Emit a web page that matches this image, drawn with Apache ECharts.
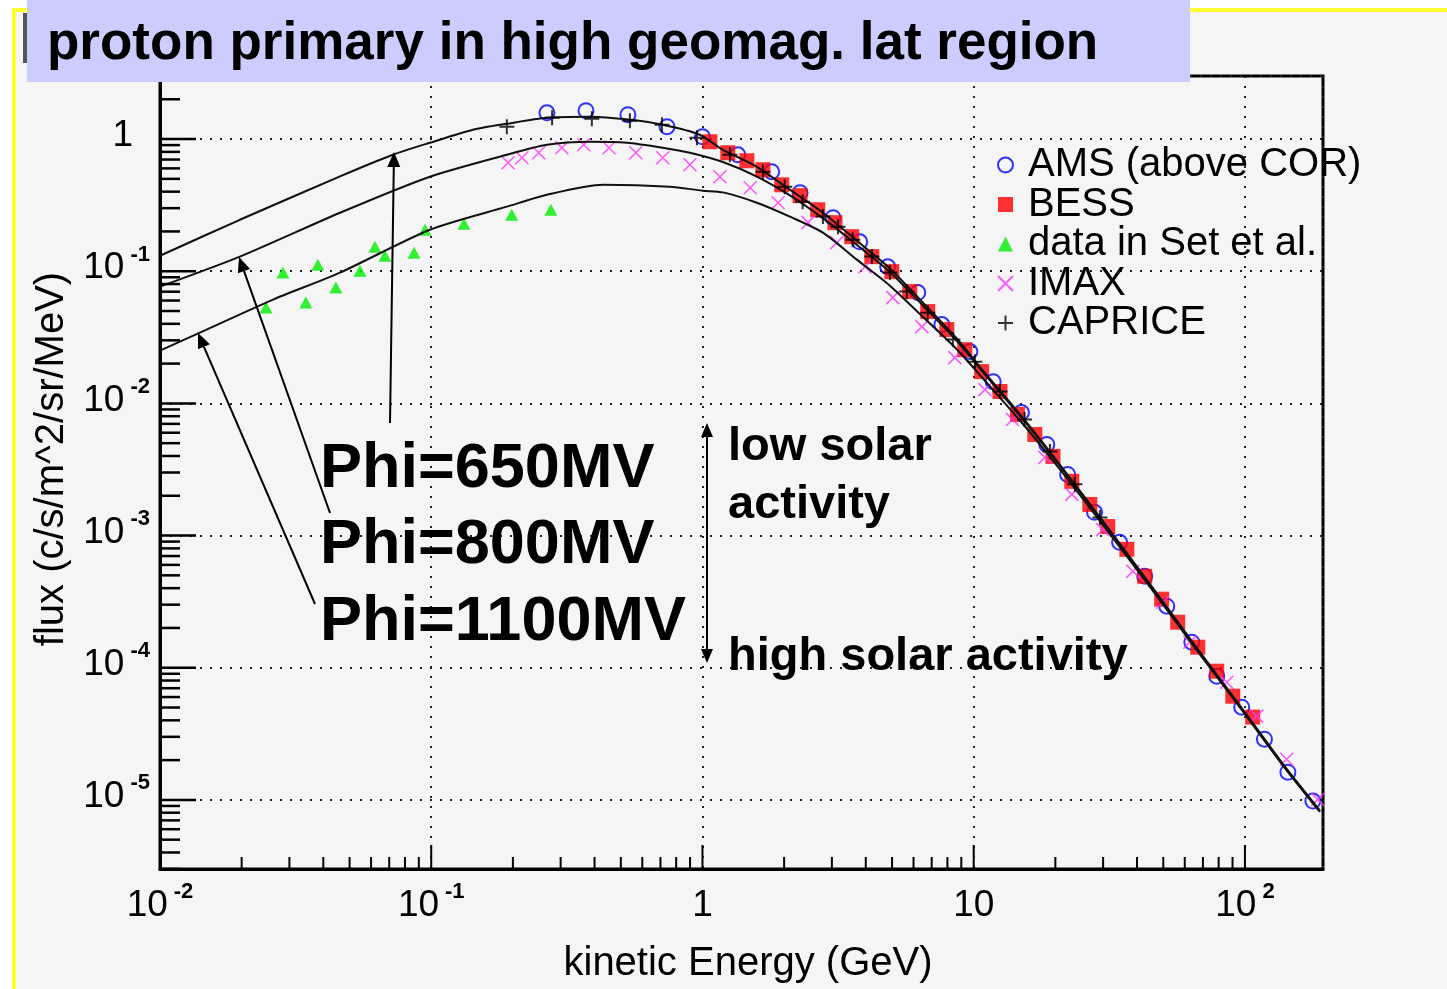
<!DOCTYPE html>
<html><head><meta charset="utf-8">
<script src="https://cdn.jsdelivr.net/npm/echarts@6/dist/echarts.min.js"></script>
<style>html,body{margin:0;padding:0;background:#fff}#c{width:1447px;height:989px}</style>
</head><body><div id="c"></div>
<script>
// ---------------- data (kinetic energy in GeV, flux in c/s/m^2/sr/MeV) ----------------
const amsE = [0.267,0.372,0.531,0.74,1.0,1.35,1.8,2.29,3.03,3.8,4.82,6.22,7.63,9.68,11.8,15.0,18.6,22.2,27.9,34.5,42.7,51.5,63.7,78.7,97.3,118,144,178];
const amsF = [1.58,1.64,1.53,1.24,1.04,0.761,0.566,0.393,0.254,0.167,0.108,0.0689,0.0395,0.0247,0.0146,0.00853,0.00489,0.0029,0.0015,8.9e-4,4.92e-4,2.92e-4,1.56e-4,8.63e-5,5.03e-5,2.88e-5,1.62e-5,9.8e-6];

const bessE = [1.065,1.24,1.458,1.67,1.96,2.29,2.66,3.08,3.55,4.21,4.99,5.81,6.77,7.96,9.27,10.7,12.5,14.5,16.8,19.6,23.0,26.8,31.2,36.7,42.7,49.3,56.5,67.0,78.7,90.2,106.8];
const bessF = [0.954,0.788,0.685,0.586,0.451,0.373,0.292,0.233,0.1826,0.129,0.0993,0.0701,0.0495,0.0362,0.0255,0.0174,0.0123,0.00824,0.00582,0.00397,0.00257,0.00172,0.00117,7.87e-4,4.92e-4,3.30e-4,2.21e-4,1.43e-4,9.41e-5,6.09e-5,4.23e-5];

const setE = [0.0246,0.0284,0.0345,0.0382,0.0445,0.0546,0.062,0.0675,0.0864,0.0948,0.132,0.198,0.276];
const setF = [0.0531,0.0976,0.0579,0.112,0.0752,0.101,0.153,0.131,0.138,0.206,0.229,0.268,0.292];

const imaxE = [0.192,0.216,0.249,0.303,0.365,0.452,0.568,0.714,0.899,1.16,1.50,1.90,2.45,3.13,3.97,5.03,6.44,8.52,11.0,13.9,18.3,23.0,29.9,38.6,49.8,62.6,85.7,110.5,142.6,185.5];
const imaxF = [0.662,0.722,0.788,0.86,0.906,0.86,0.788,0.722,0.639,0.519,0.428,0.33,0.233,0.1645,0.108,0.0632,0.0381,0.0222,0.0127,0.00756,0.0039,0.00205,0.00111,5.36e-4,3.13e-4,1.56e-4,7.77e-5,4.3e-5,2.03e-5,1.01e-5];

const capE = [0.19,0.279,0.391,0.54,0.709,0.954,1.262,1.67,2.01,2.34,2.78,3.16,3.58,4.21,4.91,5.67,6.77,8.38,10.1,12.5,15.4,19.1,23.6,29.2];
const capF = [1.239,1.449,1.424,1.375,1.282,1.023,0.761,0.566,0.436,0.336,0.259,0.217,0.173,0.129,0.0976,0.0701,0.0486,0.0304,0.0207,0.0123,0.00756,0.00433,0.00244,0.00137];

// model curves (solar modulation potential Phi)
const phi650E = [0.01,0.0197,0.0461,0.0722,0.0989,0.1425,0.19,0.267,0.385,0.54,0.714,0.977,1.189,1.587,2.1,2.78,3.71,4.91,6.49,8.66,10.8,15,20,30,45,65,100,140,189];
const phi650F = [0.131,0.245,0.522,0.761,0.938,1.176,1.305,1.449,1.474,1.399,1.282,1.078,0.83,0.617,0.414,0.277,0.17,0.105,0.058,0.031,0.0178,0.008,0.0038,0.00128,4.2e-4,1.5e-4,4.6e-5,1.8e-5,8.3e-6];
const phi800E = [0.01,0.0197,0.0461,0.0989,0.19,0.267,0.385,0.526,0.714,0.899,1.189,1.587,2.1,2.78,3.71,4.91,6.49,8.66,10.8,15,20,30,45,65,100,140,189];
const phi800F = [0.0765,0.129,0.277,0.519,0.761,0.906,0.954,0.938,0.86,0.788,0.67,0.52,0.375,0.252,0.158,0.0987,0.0551,0.0298,0.0173,0.0078,0.00372,0.00126,4.14e-4,1.48e-4,4.53e-5,1.77e-5,8.18e-6];
const phi1100E = [0.01,0.01404,0.0261,0.0461,0.0989,0.19,0.267,0.43,0.758,1.0,1.189,1.587,2.1,2.78,3.71,4.91,6.49,8.66,10.8,15,20,30,45,65,100,140,189];
const phi1100F = [0.0251,0.0343,0.061,0.0976,0.206,0.308,0.379,0.451,0.436,0.407,0.395,0.33,0.259,0.196,0.1224,0.0777,0.0452,0.0257,0.0155,0.0072,0.0035,0.0012,4.0e-4,1.44e-4,4.46e-5,1.755e-5,8.1e-6];

// axes (decades)
const xTickExp = [-2,-1,0,1,2];
const yTickExp = [-5,-4,-3,-2,-1,0];
const legendNames = ['AMS (above COR)','BESS','data in Set et al.','IMAX','CAPRICE'];

// ---------------- helpers ----------------
const L = Math.log10;
const X_MIN = -2, X_MAX = L(194), Y_MIN = L(3e-6), Y_MAX = L(3);
const FONT = '"Liberation Sans", Arial, Helvetica, sans-serif';
const pts = (E, F) => E.map((e, i) => [L(e), L(F[i])]);

function tickData(lo, hi, majorLen, minorLen) {
  const out = [];
  for (let n = Math.floor(lo) - 1; n <= Math.ceil(hi); n++) {
    for (let k = 1; k <= 9; k++) {
      const v = n + L(k);
      if (v < lo - 1e-9 || v > hi + 1e-9) continue;
      out.push([v, k === 1 ? majorLen : minorLen]);
    }
  }
  return out;
}
function isInt(v){ return Math.abs(v - Math.round(v)) < 1e-6; }
function xLabel(v) {
  if (!isInt(v)) return '';
  const r = Math.round(v);
  if (xTickExp.indexOf(r) < 0) return '';
  if (r === 0) return '{b|1}';
  if (r === 1) return '{b|10}';
  return '{b|10}{s|' + r + '}';
}
function yLabel(v) {
  if (!isInt(v)) return '';
  const r = Math.round(v);
  if (yTickExp.indexOf(r) < 0) return '';
  if (r === 0) return '{one|1}';
  return '{b|10}{s|' + r + '}';
}
const rich = {
  b: {fontSize: 37, fontFamily: FONT, color: '#000', padding: [6, 0, 0, 0], verticalAlign: 'bottom'},
  s: {fontSize: 22, fontWeight: 'bold', fontFamily: FONT, color: '#000', verticalAlign: 'top', padding: [0, 0, 0, 6]},
  one: {fontSize: 37, fontFamily: FONT, color: '#000', padding: [6, 17, 0, 0], verticalAlign: 'bottom'}
};

function arrowEls(x1, y1, x2, y2, head, w) {
  head = head || 15; w = w || 13;
  const a = Math.atan2(y2 - y1, x2 - x1);
  const bx = x2 - head * Math.cos(a), by = y2 - head * Math.sin(a);
  const sx = Math.sin(a) * w / 2, sy = Math.cos(a) * w / 2;
  return [
    {type: 'line', z: 50, silent: true, shape: {x1: x1, y1: y1, x2: bx, y2: by}, style: {stroke: '#000', lineWidth: 2}},
    {type: 'polygon', z: 50, silent: true, shape: {points: [[x2, y2], [bx + sx, by - sy], [bx - sx, by + sy]]}, style: {fill: '#000'}}
  ];
}
function txt(x, y, text, size, weight) {
  return {type: 'text', x: x, y: y, z: 50, silent: true,
    style: {text: text, fontSize: size, fontWeight: weight || 'bold', fontFamily: FONT, fill: '#000', align: 'left', verticalAlign: 'middle'}};
}

const curveStyle = {color: '#111', width: 2};
function curve(name, E, F) {
  return {name: name, type: 'line', data: pts(E, F), showSymbol: false, symbol: 'none', smooth: 0.25,
    lineStyle: curveStyle, z: 3, silent: true};
}

const chart = echarts.init(document.getElementById('c'), null, {renderer: 'canvas'});
const option = {
  animation: false,
  backgroundColor: '#ffffff',
  grid: {left: 160, right: 124, top: 76, bottom: 120, show: true, borderColor: '#000', borderWidth: 3,
    backgroundColor: 'transparent', containLabel: false, outerBoundsMode: 'none'},
  legend: {
    data: legendNames, orient: 'vertical', left: 992, top: 140, itemWidth: 15, itemHeight: 15, itemGap: -0.5,
    symbolKeepAspect: true,
    selectedMode: false, textStyle: {fontSize: 40, fontFamily: FONT, color: '#000', padding: [0, 0, 0, 10]}
  },
  xAxis: {
    type: 'value', min: X_MIN, max: X_MAX, minInterval: 1, maxInterval: 1, splitNumber: 4,
    axisLine: {show: true, onZero: false, lineStyle: {color: '#000', width: 3}},
    axisTick: {show: false},
    splitLine: {show: true, lineStyle: {color: '#222', width: 2, type: [2, 8]}},
    axisLabel: {formatter: xLabel, margin: 12, rich: rich, hideOverlap: false, showMinLabel: true, showMaxLabel: true},
    name: 'kinetic Energy (GeV)', nameLocation: 'middle', nameGap: 75,
    nameTextStyle: {fontSize: 40, fontFamily: FONT, color: '#000', padding: [0, 0, 0, 13]}
  },
  yAxis: {
    type: 'value', min: Y_MIN, max: Y_MAX, minInterval: 1, maxInterval: 1, splitNumber: 6,
    axisLine: {show: true, onZero: false, lineStyle: {color: '#000', width: 3}},
    axisTick: {show: false},
    splitLine: {show: true, lineStyle: {color: '#222', width: 2, type: [2, 8]}},
    axisLabel: {formatter: yLabel, margin: 10, rich: rich, padding: [0, 0, 12, 0], hideOverlap: false, showMinLabel: true, showMaxLabel: true},
    name: 'flux (c/s/m^2/sr/MeV)', nameLocation: 'middle', nameRotate: 90, nameGap: 82,
    nameTextStyle: {fontSize: 40, fontFamily: FONT, color: '#000', padding: [0, 0, 0, 27]}
  },
  series: [
    {name: 'yticks', type: 'custom', silent: true, z: 4, data: tickData(Y_MIN, Y_MAX, 36, 20),
      renderItem: function (params, api) {
        const p = api.coord([X_MIN, api.value(0)]);
        return {type: 'line', shape: {x1: p[0], y1: p[1], x2: p[0] + api.value(1), y2: p[1]}, style: {stroke: '#000', lineWidth: 2.5}};
      }},
    {name: 'xticks', type: 'custom', silent: true, z: 4, data: tickData(X_MIN, X_MAX, 24, 12),
      renderItem: function (params, api) {
        const p = api.coord([api.value(0), Y_MIN]);
        return {type: 'line', shape: {x1: p[0], y1: p[1], x2: p[0], y2: p[1] - api.value(1)}, style: {stroke: '#000', lineWidth: 2}};
      }},
    {name: 'AMS (above COR)', type: 'scatter', data: pts(amsE, amsF), symbol: 'circle', symbolSize: 15, z: 2,
      itemStyle: {color: 'rgba(0,0,0,0)', borderColor: '#0000ff', borderWidth: 2}},
    {name: 'BESS', type: 'scatter', data: pts(bessE, bessF), symbol: 'rect', symbolSize: 15, z: 2,
      itemStyle: {color: '#ff0000'}},
    {name: 'data in Set et al.', type: 'scatter', data: pts(setE, setF), symbol: 'triangle', symbolSize: [13, 12], z: 2,
      itemStyle: {color: '#00ee00'}},
    {name: 'IMAX', type: 'scatter', data: pts(imaxE, imaxF), symbol: 'path://M0,0L10,10M10,0L0,10', symbolSize: 13, z: 2,
      itemStyle: {color: '#ff33ff', borderColor: '#ff33ff', borderWidth: 1.6}},
    curve('Phi=650MV', phi650E, phi650F),
    curve('Phi=800MV', phi800E, phi800F),
    curve('Phi=1100MV', phi1100E, phi1100F),
    {name: 'CAPRICE', type: 'scatter', data: pts(capE, capF), symbol: 'path://M5,0L5,10M0,5L10,5', symbolSize: 15, z: 4,
      itemStyle: {color: '#000', borderColor: '#000', borderWidth: 2}}
  ],
  graphic: {elements: [
    {type: 'rect', z: -10, silent: true, shape: {x: 16, y: 12, width: 1431, height: 977}, style: {fill: '#f5f5f5'}},
    {type: 'rect', z: -9, silent: true, shape: {x: 12, y: 8, width: 4, height: 981}, style: {fill: '#ffff33'}},
    {type: 'rect', z: -9, silent: true, shape: {x: 12, y: 8, width: 1435, height: 4}, style: {fill: '#ffff33'}},
    {type: 'rect', z: -8, silent: true, shape: {x: 23, y: 13, width: 4, height: 50}, style: {fill: '#555'}},
    {type: 'rect', z: 100, silent: true, shape: {x: 27, y: 0, width: 1163, height: 82}, style: {fill: '#ccccff'}},
    {type: 'text', z: 101, silent: true, x: 47, y: 44,
      style: {text: 'proton primary in high geomag. lat region', fontSize: 53, fontWeight: 'bold', fontFamily: FONT, fill: '#000', align: 'left', verticalAlign: 'middle'}},
    txt(320, 470, 'Phi=650MV', 63),
    txt(320, 546, 'Phi=800MV', 63),
    txt(320, 623, 'Phi=1100MV', 63),
    txt(728, 447, 'low solar', 47),
    txt(728, 505, 'activity', 47),
    txt(728, 657, 'high solar activity', 47)
  ].concat(arrowEls(390, 423, 394, 152), arrowEls(330, 513, 239, 257), arrowEls(315, 604, 198, 333),
           arrowEls(707, 543, 707, 423, 14, 12), arrowEls(707, 543, 707, 663, 14, 12))}
};
chart.setOption(option);
</script></body></html>
